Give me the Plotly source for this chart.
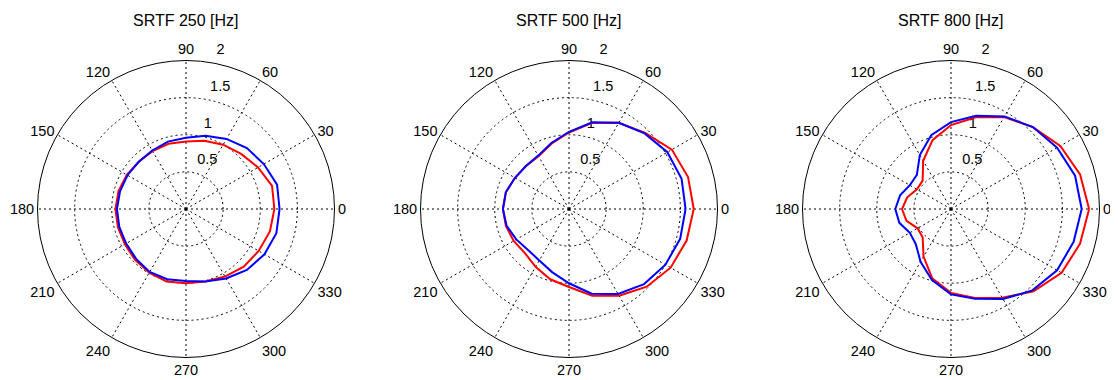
import plotly.graph_objects as go

# ---- data ----
angles_deg = [0, 15, 30, 45, 60, 75, 90, 105, 120, 135, 150, 165,
              180, 195, 210, 225, 240, 255, 270, 285, 300, 315, 330, 345]

titles = ["SRTF 250 [Hz]", "SRTF 500 [Hz]", "SRTF 800 [Hz]"]

red_250 = [1.19, 1.20, 1.12, 1.05, 1.00, 0.95, 0.91, 0.91, 0.90, 0.90, 0.92, 0.94,
           0.95, 0.95, 0.95, 0.97, 0.99, 1.01, 1.00, 1.01, 1.05, 1.10, 1.13, 1.17]
blue_250 = [1.26, 1.27, 1.21, 1.16, 1.09, 1.02, 0.96, 0.94, 0.91, 0.90, 0.91, 0.92,
            0.93, 0.93, 0.93, 0.95, 0.98, 0.98, 0.97, 1.01, 1.08, 1.16, 1.22, 1.26]

red_500 = [1.68, 1.66, 1.60, 1.45, 1.34, 1.20, 1.03, 0.91, 0.82, 0.82, 0.84, 0.88,
           0.89, 0.88, 0.86, 0.84, 0.90, 0.98, 1.05, 1.21, 1.35, 1.48, 1.58, 1.64]
blue_500 = [1.57, 1.57, 1.53, 1.44, 1.34, 1.21, 1.04, 0.92, 0.83, 0.82, 0.84, 0.88,
            0.89, 0.87, 0.82, 0.78, 0.80, 0.88, 1.00, 1.18, 1.32, 1.43, 1.50, 1.55]

red_800 = [1.86, 1.80, 1.70, 1.56, 1.43, 1.28, 1.13, 0.96, 0.75, 0.54, 0.53, 0.61,
           0.66, 0.62, 0.52, 0.54, 0.74, 0.97, 1.13, 1.24, 1.38, 1.57, 1.72, 1.80]
blue_800 = [1.76, 1.73, 1.65, 1.56, 1.44, 1.30, 1.17, 1.03, 0.84, 0.65, 0.64, 0.71,
            0.75, 0.72, 0.64, 0.67, 0.82, 0.99, 1.15, 1.25, 1.40, 1.55, 1.65, 1.71]

red_series = [red_250, red_500, red_800]
blue_series = [blue_250, blue_500, blue_800]

angular_tickvals = [0, 30, 60, 90, 120, 150, 180, 210, 240, 270, 300, 330]
angular_ticktext = ["0", "30", "60", "90", "120", "150", "180", "210", "240", "270", "300", "330"]
radial_tickvals = [0.5, 1, 1.5, 2]
radial_ticktext = ["0.5", "1", "1.5", "2"]

# ---- layout (page has an 8px body margin, so the figure is 8px smaller) ----
PAGE_OFF = 8
W, H = 1118 - PAGE_OFF, 380 - PAGE_OFF
centers_x = [186 - PAGE_OFF, 569 - PAGE_OFF, 951 - PAGE_OFF]
cy = 209 - PAGE_OFF
R = 148.5
FONT = "Liberation Sans, Arial, Helvetica, sans-serif"

fig = go.Figure()


def closed(v):
    return list(v) + [v[0]]


for i in range(3):
    pid = "polar" if i == 0 else f"polar{i+1}"
    fig.add_trace(go.Scatterpolar(
        r=radial_tickvals, theta=[80] * len(radial_tickvals), mode="markers+text",
        marker=dict(size=6, color="rgba(0,0,0,0)"),
        text=radial_ticktext, textposition="top right",
        textfont=dict(family=FONT, size=14.5, color="black"),
        subplot=pid, showlegend=False, hoverinfo="skip"))
    fig.add_trace(go.Scatterpolar(
        r=closed(red_series[i]), theta=closed(angles_deg), mode="lines",
        line=dict(color="#ff0000", width=2), subplot=pid, showlegend=False))
    fig.add_trace(go.Scatterpolar(
        r=closed(blue_series[i]), theta=closed(angles_deg), mode="lines",
        line=dict(color="#0000ff", width=2), subplot=pid, showlegend=False))

    cx = centers_x[i]
    dom = dict(x=[(cx - R) / W, (cx + R) / W],
               y=[(H - (cy + R)) / H, (H - (cy - R)) / H])
    fig.layout[pid] = dict(
        domain=dom,
        bgcolor="white",
        radialaxis=dict(range=[0, 2], tickvals=radial_tickvals, showticklabels=False,
                        ticks="", showline=False, gridcolor="black", gridwidth=1,
                        griddash="2px,3px", angle=80),
        angularaxis=dict(rotation=0, direction="counterclockwise",
                         tickvals=angular_tickvals, ticktext=angular_ticktext,
                         showline=True, linecolor="black", linewidth=1,
                         gridcolor="black", gridwidth=1, griddash="2px,3px",
                         ticks="",
                         tickfont=dict(family=FONT, size=14.5, color="black")),
    )
    fig.add_annotation(text=titles[i], x=cx / W, y=1 - (21 - PAGE_OFF) / H,
                       xref="paper", yref="paper",
                       showarrow=False, xanchor="center", yanchor="middle",
                       font=dict(family=FONT, size=16, color="black"))

fig.update_layout(width=W, height=H, margin=dict(l=0, r=0, t=0, b=0),
                  paper_bgcolor="white", plot_bgcolor="white", showlegend=False)

fig.write_html("out.html")
